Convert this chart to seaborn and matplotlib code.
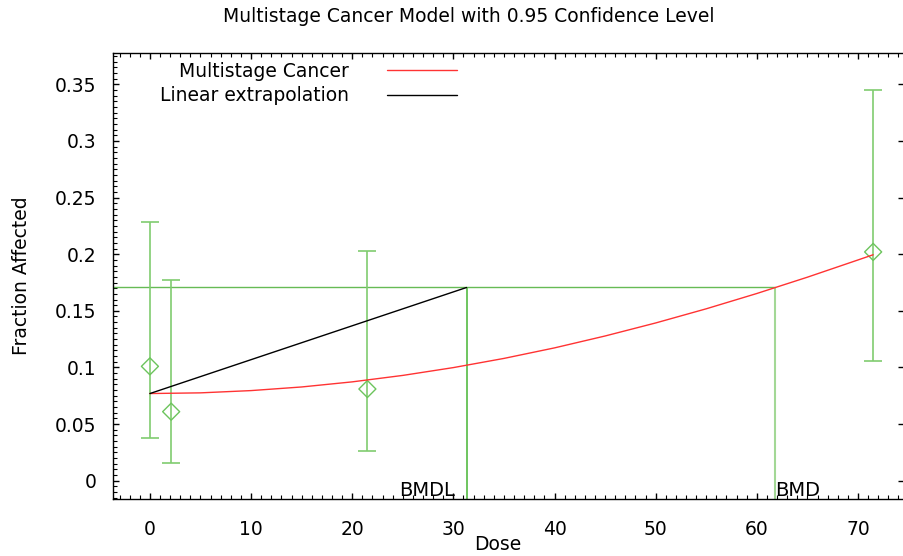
import numpy as np
import pandas as pd
import matplotlib
matplotlib.use('Agg')
import matplotlib.pyplot as plt
import seaborn as sns
from matplotlib.ticker import MultipleLocator, FixedFormatter, FixedLocator

# --- observed data (dose groups) ---
dose = [0.0, 2.1, 21.5, 71.5]
frac = [0.101, 0.061, 0.081, 0.202]
ci_lower = [0.038, 0.016, 0.026, 0.106]
ci_upper = [0.228, 0.177, 0.203, 0.345]

# --- fitted multistage curve ---
curve_dose = [0, 5, 10, 15, 20, 25, 30, 35, 40, 45, 50, 55, 60, 65, 70, 71.5]
curve_frac = [0.077, 0.0776, 0.0796, 0.0828, 0.0873, 0.0930, 0.0999, 0.1080,
              0.1173, 0.1278, 0.1393, 0.1518, 0.1653, 0.1797, 0.1949, 0.1995]

# --- benchmark dose values ---
bmr_level = 0.1706
background = 0.077
bmdl = 31.3
bmd = 61.76

x_ticks = [0, 10, 20, 30, 40, 50, 60, 70]
y_ticks = [0, 0.05, 0.1, 0.15, 0.2, 0.25, 0.3, 0.35]
y_tick_labels = ['0', '0.05', '0.1', '0.15', '0.2', '0.25', '0.3', '0.35']

sns.set_theme(style='ticks')
plt.rcParams['font.family'] = ['DejaVu Sans']
plt.rcParams['text.color'] = 'black'
plt.rcParams['axes.labelcolor'] = 'black'

GREEN_BAR = '#80cc70'
GREEN_PT = '#6cc45c'
GREEN_BMR = '#66bb55'
GREEN_BMDL = '#55bb44'
GREEN_BMD = '#a3d896'
RED = '#ff3333'

x_lo, x_hi = -3.65, 74.55
y_lo, y_hi = -0.0161, 0.3775

fig = plt.figure(figsize=(9.04, 5.56), dpi=100)
ax = fig.add_axes([0.125, 0.1025, 0.875, 0.802])

df_obs = pd.DataFrame({'dose': dose, 'frac': frac, 'lo': ci_lower, 'hi': ci_upper})
yerr = np.vstack([df_obs['frac'] - df_obs['lo'], df_obs['hi'] - df_obs['frac']])

# BMR line and BMD/BMDL markers
ax.hlines(bmr_level, x_lo, bmd, color=GREEN_BMR, lw=1.0, zorder=2)
ax.vlines(bmdl, y_lo, bmr_level, color=GREEN_BMDL, lw=1.2, zorder=2)
ax.vlines(bmd, y_lo, bmr_level, color=GREEN_BMD, lw=1.5, zorder=2)

# error bars
ax.errorbar(df_obs['dose'], df_obs['frac'], yerr=yerr, fmt='none',
            ecolor=GREEN_BAR, elinewidth=1.2, capsize=6.8, capthick=1.2, zorder=3)
sns.scatterplot(data=df_obs, x='dose', y='frac', marker='D', s=75,
                facecolor='none', edgecolor=GREEN_PT, linewidth=1.0, ax=ax, zorder=4)

# fitted curve and linear extrapolation
df_curve = pd.DataFrame({'dose': curve_dose, 'frac': curve_frac})
sns.lineplot(data=df_curve, x='dose', y='frac', color=RED, lw=1.0, ax=ax,
             label='Multistage Cancer', zorder=5)
df_lin = pd.DataFrame({'dose': [0, bmdl], 'frac': [background, bmr_level]})
sns.lineplot(data=df_lin, x='dose', y='frac', color='black', lw=1.0, ax=ax,
             label='Linear extrapolation', zorder=5)

ax.annotate('BMDL', (bmdl, y_lo), xytext=(-8, 2.5), textcoords='offset points',
            ha='right', va='baseline', fontsize=14, color='black')
ax.annotate('BMD', (bmd, y_lo), xytext=(0, 2.5), textcoords='offset points',
            ha='left', va='baseline', fontsize=14, color='black')

ax.set_xlim(x_lo, x_hi)
ax.set_ylim(y_lo, y_hi)
ax.xaxis.set_major_locator(FixedLocator(x_ticks))
ax.xaxis.set_minor_locator(MultipleLocator(1))
ax.yaxis.set_major_locator(FixedLocator(y_ticks))
ax.yaxis.set_major_formatter(FixedFormatter(y_tick_labels))
ax.yaxis.set_minor_locator(MultipleLocator(0.005))

for side in ['left', 'top', 'bottom']:
    ax.spines[side].set_color('black')
    ax.spines[side].set_linewidth(1.0)
ax.spines['right'].set_visible(False)

ax.tick_params(which='both', direction='in', top=True, colors='black', labelsize=13.5)
ax.tick_params(which='major', length=4.5, width=1.0, right=True)
ax.tick_params(which='minor', length=2.8, width=0.8, right=False)
ax.tick_params(axis='x', which='major', pad=15)
ax.tick_params(axis='y', which='major', pad=12)

ax.set_xlabel('Dose', fontsize=13.5, labelpad=-3)
ax.xaxis.label.set_x(0.486)
ax.set_ylabel('Fraction Affected', fontsize=13.5, labelpad=17)

handles, labels = ax.get_legend_handles_labels()
leg = ax.legend(handles, labels, loc='upper right', bbox_to_anchor=(0.5055, 0.889),
                bbox_transform=fig.transFigure, frameon=False, markerfirst=False,
                fontsize=13.5, handlelength=3.75, handletextpad=2.0, labelspacing=0.3,
                borderpad=0, borderaxespad=0)
for t in leg.get_texts():
    t.set_color('black')

fig.text(0.518, 0.971, 'Multistage Cancer Model with 0.95 Confidence Level',
         ha='center', va='center', fontsize=13.5, color='black')

fig.savefig('out.png', dpi=100)
